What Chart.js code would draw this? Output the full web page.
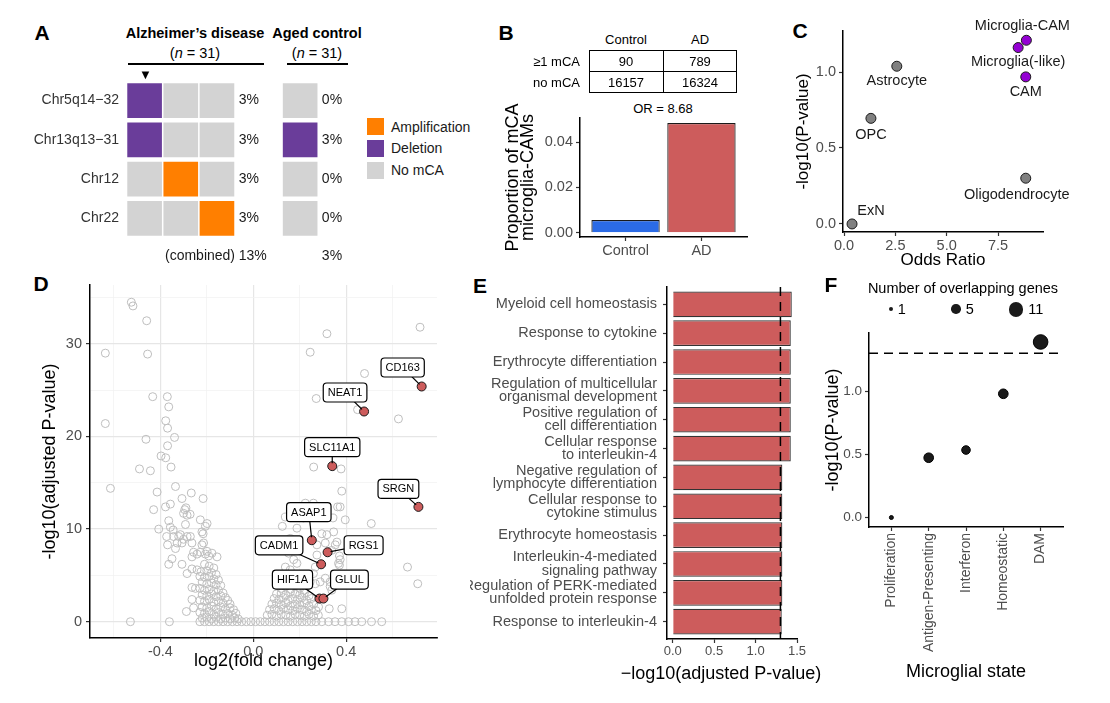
<!DOCTYPE html>
<html>
<head>
<meta charset="utf-8">
<title>mCA in microglia</title>
<script src="https://cdn.jsdelivr.net/npm/chart.js@4.4.1/dist/chart.umd.min.js"></script>
<style>
  body { margin: 0; background: #fff; }
  #figure { position: relative; width: 1110px; height: 703px; overflow: hidden; background: #fff;
            font-family: "Liberation Sans", Arial, sans-serif; color: #000; }
  #figure canvas { position: absolute; }
  .txt { position: absolute; white-space: nowrap; line-height: 1; }
  .letter { font-weight: bold; font-size: 21px; }
</style>
</head>
<body>
<div id="figure"></div>
<script>
// ---------- data: A (mCA calls per donor) ----------
const mcaRegions = ['Chr5q14\u221232', 'Chr13q13\u221231', 'Chr12', 'Chr22'];
const adCalls = [
    ['Deletion', 'No mCA', 'No mCA'],
    ['Deletion', 'No mCA', 'No mCA'],
    ['No mCA', 'Amplification', 'No mCA'],
    ['No mCA', 'No mCA', 'Amplification']
];
const controlCalls = ['No mCA', 'Deletion', 'No mCA', 'No mCA'];
const adPercent = [3, 3, 3, 3];
const controlPercent = [0, 3, 0, 0];
const combinedPercent = [13, 3];
const mcaTypes = ['Amplification', 'Deletion', 'No mCA'];

// ---------- data: B (contingency table + proportions) ----------
const tableGroups = ['Control', 'AD'];
const withMca = [90, 789];
const withoutMca = [16157, 16324];
const oddsRatio = 8.68;
const mcaProportion = [0.0056, 0.0484];

// ---------- data: C (enrichment per cell type) ----------
const cellTypes = ['ExN', 'OPC', 'Astrocyte', 'Oligodendrocyte', 'CAM', 'Microglia(-like)', 'Microglia-CAM'];
const cellOdds = [0.39, 1.31, 2.57, 8.85, 8.85, 8.48, 8.88];
const cellNegLogP = [0.0, 0.695, 1.038, 0.301, 0.968, 1.161, 1.209];
const cellMicroglial = [false, false, false, false, true, true, true];

// ---------- data: D (volcano) ----------
const downGenes = [
    [-0.525, 34.5], [-0.518, 34.1], [-0.459, 32.5], [-0.637, 29.0], [-0.455, 28.9],
    [-0.433, 24.3], [-0.370, 24.3], [-0.364, 23.2], [-0.637, 21.4], [-0.377, 21.7], [-0.369, 20.9],
    [-0.462, 19.7], [-0.339, 19.9], [-0.369, 19.0], [-0.397, 17.9], [-0.377, 17.7], [-0.354, 16.7],
    [-0.490, 16.5], [-0.443, 16.3], [-0.615, 14.4], [-0.414, 14.0], [-0.335, 14.6],
    [-0.429, 12.1], [-0.378, 12.4], [-0.357, 12.7], [-0.267, 13.9], [-0.216, 13.3], [-0.307, 13.3],
    [-0.295, 12.1], [-0.300, 11.7], [-0.285, 11.5], [-0.272, 11.6], [-0.290, 12.3], [-0.228, 11.0],
    [-0.407, 10.0], [-0.357, 10.2], [-0.364, 10.9], [-0.345, 9.9], [-0.292, 10.5], [-0.206, 10.3],
    [-0.199, 10.6], [-0.221, 9.7], [-0.314, 9.4], [-0.343, 9.2], [-0.321, 9.2], [-0.300, 8.9],
    [-0.285, 9.2], [-0.271, 9.2], [-0.373, 9.2], [-0.369, 8.3], [-0.335, 7.9], [-0.328, 8.5],
    [-0.307, 8.5], [-0.264, 8.5], [-0.214, 8.5], [-0.216, 9.5], [-0.350, 6.8], [-0.364, 6.2],
    [-0.307, 6.2], [-0.285, 5.2], [-0.257, 7.5], [-0.242, 7.3], [-0.264, 7.0], [-0.228, 7.5],
    [-0.221, 8.3], [-0.206, 7.3], [-0.199, 7.6], [-0.192, 7.1], [-0.178, 7.4], [-0.156, 7.0],
    [-0.264, 5.7], [-0.242, 5.6], [-0.264, 3.7], [-0.249, 3.6], [-0.264, 2.4], [-0.257, 1.5],
    [-0.288, 1.1], [-0.529, 0], [-0.361, 0],
    [-0.21, 6.2], [-0.19, 6.0], [-0.17, 5.8],
    [-0.225, 5.4], [-0.20, 5.5], [-0.18, 5.3], [-0.16, 5.1],
    [-0.23, 4.9], [-0.21, 4.8], [-0.19, 4.9], [-0.17, 4.6], [-0.15, 4.5],
    [-0.22, 4.3], [-0.20, 4.1], [-0.18, 4.2], [-0.16, 4.0], [-0.14, 3.9],
    [-0.23, 3.6], [-0.21, 3.4], [-0.19, 3.5], [-0.17, 3.3], [-0.15, 3.4], [-0.13, 3.1],
    [-0.22, 2.9], [-0.20, 2.8], [-0.18, 3.0], [-0.16, 2.7], [-0.14, 2.8], [-0.12, 2.6],
    [-0.23, 2.3], [-0.21, 2.2], [-0.19, 2.4], [-0.17, 2.1], [-0.15, 2.2], [-0.13, 2.0], [-0.11, 2.3], [-0.10, 1.9],
    [-0.22, 1.6], [-0.20, 1.5], [-0.18, 1.7], [-0.16, 1.4], [-0.14, 1.6], [-0.12, 1.4], [-0.10, 1.5], [-0.085, 1.3],
    [-0.23, 1.0], [-0.21, 0.9], [-0.19, 1.1], [-0.17, 0.8], [-0.15, 1.0], [-0.13, 0.8], [-0.11, 0.9], [-0.09, 0.7], [-0.075, 0.9],
    [-0.22, 0.4], [-0.20, 0.5], [-0.18, 0.3], [-0.16, 0.5], [-0.14, 0.3], [-0.12, 0.4], [-0.10, 0.3], [-0.08, 0.4], [-0.065, 0.3]
];
const upGenes = [
    [0.718, 31.8], [0.317, 31.1], [0.245, 29.1], [0.479, 26.8], [0.271, 24.1], [0.449, 22.9], [0.625, 21.9],
    [0.260, 16.7], [0.378, 16.5], [0.381, 14.1], [0.224, 12.8], [0.259, 12.8], [0.363, 12.4], [0.374, 12.4],
    [0.138, 11.3], [0.216, 11.2], [0.343, 11.2], [0.396, 11.0], [0.508, 10.6], [0.125, 10.3], [0.188, 10.1],
    [0.295, 9.5], [0.159, 9.0], [0.317, 9.4], [0.346, 9.7], [0.360, 8.6], [0.274, 8.3], [0.310, 8.5], [0.353, 8.3],
    [0.338, 7.7], [0.371, 7.1], [0.374, 6.7], [0.367, 6.3], [0.274, 7.2], [0.152, 7.4], [0.174, 6.7], [0.188, 6.3],
    [0.138, 5.9], [0.159, 5.6], [0.267, 5.9], [0.371, 6.1], [0.259, 5.2], [0.310, 4.7], [0.288, 4.3], [0.331, 4.3],
    [0.245, 4.3], [0.267, 4.1], [0.331, 3.8], [0.338, 3.4], [0.664, 5.9], [0.708, 4.1], [0.281, 1.6], [0.327, 1.4], [0.381, 1.4],
    [0.12, 3.6], [0.14, 3.8], [0.16, 3.5], [0.18, 3.9], [0.20, 3.6], [0.22, 3.4],
    [0.10, 3.0], [0.12, 3.1], [0.14, 2.9], [0.16, 3.2], [0.18, 3.0], [0.20, 2.9], [0.22, 3.1], [0.24, 2.8],
    [0.09, 2.5], [0.11, 2.4], [0.13, 2.6], [0.15, 2.3], [0.17, 2.5], [0.19, 2.4], [0.21, 2.6], [0.23, 2.3], [0.25, 2.5],
    [0.08, 1.9], [0.10, 2.0], [0.12, 1.8], [0.14, 2.0], [0.16, 1.7], [0.18, 1.9], [0.20, 1.8], [0.22, 2.0], [0.24, 1.7], [0.26, 1.9],
    [0.07, 1.3], [0.09, 1.4], [0.11, 1.2], [0.13, 1.4], [0.15, 1.3], [0.17, 1.2], [0.19, 1.4], [0.21, 1.3], [0.23, 1.1], [0.25, 1.3], [0.27, 1.2],
    [0.06, 0.7], [0.08, 0.8], [0.10, 0.6], [0.12, 0.8], [0.14, 0.7], [0.16, 0.6], [0.18, 0.8], [0.20, 0.7], [0.22, 0.6], [0.24, 0.8], [0.26, 0.6], [0.28, 0.7]
];
const flatGenes = [
    [-0.23, 0], [-0.21, 0], [-0.19, 0], [-0.17, 0], [-0.15, 0], [-0.13, 0], [-0.11, 0], [-0.09, 0],
    [-0.07, 0], [-0.05, 0], [-0.03, 0], [-0.01, 0], [0.01, 0], [0.03, 0], [0.05, 0], [0.07, 0],
    [0.09, 0], [0.11, 0], [0.13, 0], [0.15, 0], [0.17, 0], [0.19, 0], [0.21, 0], [0.23, 0],
    [0.25, 0], [0.27, 0], [0.295, 0], [0.324, 0], [0.352, 0], [0.381, 0], [0.410, 0], [0.438, 0],
    [0.467, 0], [0.509, 0], [0.553, 0]
];
const hitGenes = ['CD163', 'NEAT1', 'SLC11A1', 'SRGN', 'ASAP1', 'RGS1', 'CADM1', 'HIF1A', 'GLUL'];
const hitLog2FC = [0.725, 0.477, 0.340, 0.711, 0.252, 0.320, 0.292, 0.285, 0.302];
const hitNegLogP = [25.4, 22.7, 16.8, 12.4, 8.8, 7.5, 6.2, 2.5, 2.5];

// ---------- data: E (GO enrichment) ----------
const goTerms = [
    'Myeloid cell homeostasis',
    'Response to cytokine',
    'Erythrocyte differentiation',
    ['Regulation of multicellular', 'organismal development'],
    ['Positive regulation of', 'cell differentiation'],
    ['Cellular response', 'to interleukin-4'],
    ['Negative regulation of', 'lymphocyte differentiation'],
    ['Cellular response to', 'cytokine stimulus'],
    'Erythrocyte homeostasis',
    ['Interleukin-4-mediated', 'signaling pathway'],
    ['Regulation of PERK-mediated', 'unfolded protein response'],
    'Response to interleukin-4'
];
const goNegLogP = [1.437, 1.425, 1.425, 1.425, 1.425, 1.425, 1.323, 1.323, 1.323, 1.323, 1.323, 1.316];
const significance = 1.30;

// ---------- data: F (microglial states) ----------
const microglialStates = ['Proliferation', 'Antigen-Presenting', 'Interferon', 'Homeostatic', 'DAM'];
const stateNegLogP = [0.0, 0.473, 0.534, 0.979, 1.389];
const stateOverlap = [1, 5, 4, 5, 11];
const overlapBreaks = [1, 5, 11];

// ---------- helpers ----------
const FONT = '"Liberation Sans", Arial, sans-serif';
Chart.defaults.font.family = FONT;
Chart.defaults.color = '#4D4D4D';

const figure = document.getElementById('figure');
const mcaColors = { 'Amplification': '#FF7F00', 'Deletion': '#6A3D9A', 'No mCA': '#D3D3D3' };
const RED = '#CD5C5C';
const AXIS_LINE = { display: true, color: '#000', width: 1.5 };

function makeCanvas(left, top, w, h) {
    const c = document.createElement('canvas');
    c.width = w; c.height = h;
    c.style.cssText = `left:${left}px;top:${top}px;width:${w}px;height:${h}px;`;
    figure.appendChild(c);
    return c;
}

function put(html, x, y, css = '', align = 'center') {
    const el = document.createElement('div');
    el.className = 'txt';
    el.innerHTML = html;
    const shift = align === 'left' ? '0' : align === 'right' ? '-100%' : '-50%';
    el.style.cssText = `left:${x}px;top:${y}px;transform:translate(${shift},-50%);${css}`;
    figure.appendChild(el);
    return el;
}

function box(x, y, w, h, css) {
    const el = document.createElement('div');
    el.style.cssText = `position:absolute;left:${x}px;top:${y}px;width:${w}px;height:${h}px;${css}`;
    figure.appendChild(el);
}

function tickGrid() {
    return { display: true, drawOnChartArea: false, drawTicks: true, tickLength: 4, tickColor: '#333', tickWidth: 1.2, offset: false };
}

function fixTicks(values) {
    return axis => { axis.ticks = values.map(v => ({ value: v })); };
}

function baseOptions(extra) {
    const opts = Object.assign({
        responsive: false, animation: false, devicePixelRatio: 1, events: [],
        plugins: { legend: { display: false }, tooltip: { enabled: false } }
    }, extra);
    opts.layout = Object.assign({ autoPadding: false }, extra.layout || {});
    return opts;
}

function geneDotRadius(n) {
    return 2 + 5.3 * (Math.sqrt(n) - 1) / (Math.sqrt(11) - 1);
}

// ================= Panel A =================
const cellColX = [0, 1, 2];
const controlColX = 4.3;
const heatCells = [];
adCalls.forEach((row, r) => row.forEach((call, c) => heatCells.push({ x: cellColX[c], y: mcaRegions[r], call })));
controlCalls.forEach((call, r) => heatCells.push({ x: controlColX, y: mcaRegions[r], call }));

new Chart(makeCanvas(0, 61, 345, 210), {
    type: 'scatter',
    data: {
        datasets: [{
            data: heatCells,
            pointStyle: 'rect',
            pointRadius: 24.5,
            borderWidth: 0,
            backgroundColor: heatCells.map(c => mcaColors[c.call])
        }]
    },
    options: baseOptions({
        layout: { padding: { top: 20, bottom: 33 } },
        scales: {
            x: { type: 'linear', display: false, min: -0.514, max: 5.54 },
            y: {
                type: 'category', labels: mcaRegions, offset: true,
                grid: { display: false, drawTicks: false }, border: { display: false },
                ticks: { color: '#333', font: { size: 14 }, padding: 7 },
                afterFit: a => { a.width = 126; }
            }
        }
    }),
    plugins: [{
        id: 'percentages',
        afterDatasetsDraw(chart) {
            const { ctx, scales: { x, y }, chartArea } = chart;
            ctx.save();
            ctx.font = '14px ' + FONT;
            ctx.fillStyle = '#1a1a1a';
            ctx.textBaseline = 'middle';
            ctx.textAlign = 'left';
            mcaRegions.forEach((r, i) => {
                const py = y.getPixelForValue(i);
                ctx.fillText(adPercent[i] + '%', x.getPixelForValue(2.6), py);
                ctx.fillText(controlPercent[i] + '%', x.getPixelForValue(4.9), py);
            });
            const cy = chartArea.bottom + 18;
            ctx.fillText(combinedPercent[0] + '%', x.getPixelForValue(2.6), cy);
            ctx.fillText(combinedPercent[1] + '%', x.getPixelForValue(4.9), cy);
            ctx.textAlign = 'right';
            ctx.fillText('(combined)', x.getPixelForValue(2.5), cy);
            ctx.restore();
        }
    }]
});

put('A', 42, 32).classList.add('letter');
put('Alzheimer\u2019s disease', 195, 33, 'font-weight:bold;font-size:14.5px;');
put('(<i>n</i> = 31)', 195, 53, 'font-size:14.5px;');
put('Aged control', 317, 33, 'font-weight:bold;font-size:14.5px;');
put('(<i>n</i> = 31)', 317, 53, 'font-size:14.5px;');
box(128, 63, 136, 2, 'background:#000;');
box(287, 63, 61, 2, 'background:#000;');
put('\u25BC', 145.5, 73.5, 'font-size:13px;');
mcaTypes.forEach((t, i) => {
    const cy = 126.7 + i * 21.7;
    box(367, cy - 8.5, 17, 17, 'background:' + mcaColors[t] + ';');
    put(t, 391, cy, 'font-size:14px;color:#1a1a1a;', 'left');
});

// ================= Panel B =================
put('B', 506, 32).classList.add('letter');
tableGroups.forEach((g, i) => put(g, [626, 700][i], 39, 'font-size:13px;'));
box(589, 50, 148, 43, 'border:1.3px solid #000;box-sizing:border-box;');
box(662.5, 50, 1.3, 43, 'background:#000;');
box(589, 71, 148, 1.3, 'background:#000;');
put('\u22651 mCA', 580, 61, 'font-size:13px;', 'right');
put('no mCA', 580, 82, 'font-size:13px;', 'right');
tableGroups.forEach((g, i) => {
    put(String(withMca[i]), [626, 700][i], 61, 'font-size:13px;');
    put(String(withoutMca[i]), [626, 700][i], 82, 'font-size:13px;');
});
put('OR = ' + oddsRatio.toFixed(2), 663, 108, 'font-size:13px;');

new Chart(makeCanvas(495, 100, 255, 170), {
    type: 'bar',
    data: {
        datasets: [{
            data: tableGroups.map((g, i) => ({ x: i, y: mcaProportion[i] })),
            backgroundColor: ['#2B6BE6', RED],
            borderColor: '#1a1a1a', borderWidth: 1.2,
            barPercentage: 0.9, categoryPercentage: 1
        }]
    },
    options: baseOptions({
        layout: { padding: { top: 18, right: 3 } },
        scales: {
            x: {
                type: 'linear', min: -0.6, max: 1.6, offset: false,
                afterBuildTicks: fixTicks([0, 1]),
                ticks: { callback: v => tableGroups[v], font: { size: 14.5 }, padding: 1, autoSkip: false },
                grid: tickGrid(), border: AXIS_LINE,
                afterFit: a => { a.height = 33; }
            },
            y: {
                type: 'linear', min: -0.0019, max: 0.0506,
                afterBuildTicks: fixTicks([0, 0.02, 0.04]),
                ticks: { callback: v => v.toFixed(2), font: { size: 14.5 }, padding: 3 },
                grid: tickGrid(), border: AXIS_LINE,
                title: { display: true, text: ['Proportion of mCA', 'microglia-CAMs'], color: '#000',
                         font: { size: 18, lineHeight: 0.87 }, padding: { top: 10 } },
                afterFit: a => { a.width = 85; }
            }
        }
    })
});

// ================= Panel C =================
put('C', 800, 30).classList.add('letter');
const cellLabelNudge = {
    'ExN': [19, -13], 'OPC': [0, 17], 'Astrocyte': [0, 15], 'Oligodendrocyte': [-9, 17],
    'CAM': [0, 15], 'Microglia(-like)': [0, 14], 'Microglia-CAM': [-4, -14]
};
new Chart(makeCanvas(785, 11, 320, 269), {
    type: 'scatter',
    data: {
        datasets: [{
            data: cellTypes.map((c, i) => ({ x: cellOdds[i], y: cellNegLogP[i] })),
            pointRadius: 5, borderWidth: 1, borderColor: '#1a1a1a',
            backgroundColor: cellMicroglial.map(m => m ? '#9400D3' : '#808080')
        }]
    },
    options: baseOptions({
        layout: { padding: { top: 20, right: 62 } },
        scales: {
            x: {
                type: 'linear', min: -0.05, max: 9.69,
                afterBuildTicks: fixTicks([0, 2.5, 5, 7.5]),
                ticks: { callback: v => v.toFixed(1), font: { size: 14.5 }, padding: 1 },
                grid: tickGrid(), border: AXIS_LINE,
                title: { display: true, text: 'Odds Ratio', color: '#000', font: { size: 17 }, padding: { bottom: 9 } },
                afterFit: a => { a.height = 48; }
            },
            y: {
                type: 'linear', min: -0.053, max: 1.27,
                afterBuildTicks: fixTicks([0, 0.5, 1]),
                ticks: { callback: v => v.toFixed(1), font: { size: 14.5 }, padding: 3 },
                grid: tickGrid(), border: AXIS_LINE,
                title: { display: true, text: '-log10(P-value)', color: '#000', font: { size: 17 }, padding: { top: 8 } },
                afterFit: a => { a.width = 58; }
            }
        }
    }),
    plugins: [{
        id: 'cellLabels',
        afterDatasetsDraw(chart) {
            const { ctx, scales: { x, y } } = chart;
            ctx.save();
            ctx.font = '14.5px ' + FONT;
            ctx.fillStyle = '#1a1a1a';
            ctx.textAlign = 'center';
            ctx.textBaseline = 'middle';
            cellTypes.forEach((c, i) => {
                const [dx, dy] = cellLabelNudge[c];
                ctx.fillText(c, x.getPixelForValue(cellOdds[i]) + dx, y.getPixelForValue(cellNegLogP[i]) + dy);
            });
            ctx.restore();
        }
    }]
});

// ================= Panel D =================
put('D', 41, 283).classList.add('letter');
const geneLabelOffset = {
    CD163: [-19, -19], NEAT1: [-19, -19], SLC11A1: [0, -19], SRGN: [-20, -18], ASAP1: [-3, -28],
    RGS1: [36, -7], CADM1: [-42, -19], HIF1A: [-27, -19], GLUL: [26, -19]
};
const isMajorX = v => [-0.4, 0, 0.4].some(m => Math.abs(m - v) < 1e-9);
const isMajorY = v => v % 10 === 0;
const volcanoGrey = downGenes.concat(upGenes, flatGenes);

new Chart(makeCanvas(30, 265, 420, 420), {
    type: 'scatter',
    data: {
        datasets: [
            {
                order: 0,
                data: hitGenes.map((g, i) => ({ x: hitLog2FC[i], y: hitNegLogP[i] })),
                pointRadius: 4.5, borderWidth: 1, borderColor: '#1a1a1a', backgroundColor: RED
            },
            {
                order: 1,
                data: volcanoGrey.map(([x, y]) => ({ x, y })),
                pointRadius: 4, borderWidth: 1, borderColor: '#BEBEBE', backgroundColor: 'rgba(0,0,0,0)'
            }
        ]
    },
    options: baseOptions({
        layout: { padding: { top: 20, right: 13 } },
        scales: {
            x: {
                type: 'linear', min: -0.703, max: 0.791,
                afterBuildTicks: fixTicks([-0.6, -0.4, -0.2, 0, 0.2, 0.4, 0.6]),
                ticks: { callback: v => isMajorX(v) ? v.toFixed(1) : '', font: { size: 14.5 }, padding: 1, autoSkip: false, maxRotation: 0 },
                grid: {
                    display: true, drawOnChartArea: true, drawTicks: true, tickLength: 4, tickWidth: 1.2,
                    color: ctx => isMajorX(ctx.tick.value) ? '#E6E6E6' : '#F0F0F0',
                    lineWidth: ctx => isMajorX(ctx.tick.value) ? 1.2 : 0.7,
                    tickColor: ctx => isMajorX(ctx.tick.value) ? '#333' : 'rgba(0,0,0,0)'
                },
                border: AXIS_LINE,
                title: { display: true, text: 'log2(fold change)', color: '#000', font: { size: 18 }, padding: { bottom: 13 } },
                afterFit: a => { a.height = 47; }
            },
            y: {
                type: 'linear', min: -1.76, max: 36.36,
                afterBuildTicks: fixTicks([0, 5, 10, 15, 20, 25, 30, 35]),
                ticks: { callback: v => isMajorY(v) ? String(v) : '', font: { size: 14.5 }, padding: 4, autoSkip: false },
                grid: {
                    display: true, drawOnChartArea: true, drawTicks: true, tickLength: 4, tickWidth: 1.2,
                    color: ctx => isMajorY(ctx.tick.value) ? '#E6E6E6' : '#F0F0F0',
                    lineWidth: ctx => isMajorY(ctx.tick.value) ? 1.2 : 0.7,
                    tickColor: ctx => isMajorY(ctx.tick.value) ? '#333' : 'rgba(0,0,0,0)'
                },
                border: AXIS_LINE,
                title: { display: true, text: '-log10(adjusted P-value)', color: '#000', font: { size: 18 }, padding: { top: 9 } },
                afterFit: a => { a.width = 60; }
            }
        }
    }),
    plugins: [{
        id: 'geneLabels',
        afterDatasetsDraw(chart) {
            const { ctx, scales: { x, y } } = chart;
            ctx.save();
            ctx.font = '11px ' + FONT;
            hitGenes.forEach((g, i) => {
                const px = x.getPixelForValue(hitLog2FC[i]);
                const py = y.getPixelForValue(hitNegLogP[i]);
                const [dx, dy] = geneLabelOffset[g];
                const bx = px + dx, by = py + dy;
                const len = Math.hypot(dx, dy);
                const w = ctx.measureText(g).width + 9, h = 19;
                ctx.strokeStyle = '#000';
                ctx.lineWidth = 1.2;
                ctx.beginPath();
                ctx.moveTo(px + dx / len * 3, py + dy / len * 3);
                ctx.lineTo(bx, by);
                ctx.stroke();
                ctx.beginPath();
                ctx.roundRect(bx - w / 2, by - h / 2, w, h, 3.5);
                ctx.fillStyle = '#fff';
                ctx.fill();
                ctx.stroke();
                ctx.fillStyle = '#000';
                ctx.textAlign = 'center';
                ctx.textBaseline = 'middle';
                ctx.fillText(g, bx, by + 0.5);
            });
            ctx.restore();
        }
    }]
});

// ================= Panel E =================
put('E', 480, 285).classList.add('letter');
new Chart(makeCanvas(470, 267, 343, 423), {
    type: 'bar',
    data: {
        datasets: [{
            data: goTerms.map((t, i) => ({ x: goNegLogP[i], y: i })),
            backgroundColor: RED, borderColor: '#333', borderWidth: 1.2,
            barPercentage: 0.89, categoryPercentage: 1
        }]
    },
    options: baseOptions({
        indexAxis: 'y',
        layout: { padding: { top: 20, right: 16 } },
        scales: {
            x: {
                type: 'linear', min: -0.069, max: 1.5,
                afterBuildTicks: fixTicks([0, 0.5, 1, 1.5]),
                ticks: { callback: v => v.toFixed(1), font: { size: 13 }, padding: 1, autoSkip: false, maxRotation: 0 },
                grid: tickGrid(), border: AXIS_LINE,
                afterFit: a => { a.height = 51; }
            },
            y: {
                type: 'linear', reverse: true, min: -0.6, max: 11.6, offset: false,
                afterBuildTicks: fixTicks(goTerms.map((t, i) => i)),
                ticks: { callback: v => goTerms[v], font: { size: 14.5, lineHeight: 0.9 }, padding: 6, autoSkip: false },
                grid: tickGrid(), border: AXIS_LINE,
                afterFit: a => { a.width = 197; }
            }
        }
    }),
    plugins: [{
        id: 'threshold',
        afterDatasetsDraw(chart) {
            const { ctx, scales: { x }, chartArea } = chart;
            const px = x.getPixelForValue(significance);
            ctx.save();
            ctx.strokeStyle = '#000';
            ctx.lineWidth = 1.5;
            ctx.setLineDash([9, 6]);
            ctx.beginPath();
            ctx.moveTo(px, chartArea.top);
            ctx.lineTo(px, chartArea.bottom);
            ctx.stroke();
            ctx.restore();
        }
    }]
});
put('\u2212log10(adjusted P-value)', 721, 673, 'font-size:18px;');

// ================= Panel F =================
put('F', 831, 284).classList.add('letter');
put('Number of overlapping genes', 963, 288, 'font-size:14.5px;');
const legendDotX = [890.7, 956, 1016];
overlapBreaks.forEach((n, i) => {
    const r = geneDotRadius(n);
    box(legendDotX[i] - r, 309.3 - r, 2 * r, 2 * r, 'background:#1a1a1a;border-radius:50%;');
    put(String(n), legendDotX[i] + r + 5, 309.3, 'font-size:14.5px;', 'left');
});

new Chart(makeCanvas(815, 275, 270, 415), {
    type: 'scatter',
    data: {
        datasets: [{
            data: microglialStates.map((s, i) => ({ x: i, y: stateNegLogP[i] })),
            pointRadius: stateOverlap.map(geneDotRadius),
            backgroundColor: '#1a1a1a', borderColor: '#000', borderWidth: 1
        }]
    },
    options: baseOptions({
        layout: { padding: { top: 58, right: 22 } },
        scales: {
            x: {
                type: 'linear', min: -0.6, max: 4.6,
                afterBuildTicks: fixTicks([0, 1, 2, 3, 4]),
                ticks: { callback: v => microglialStates[v], font: { size: 14 }, padding: 2,
                         maxRotation: 90, minRotation: 90, autoSkip: false },
                grid: tickGrid(), border: AXIS_LINE,
                title: { display: true, text: 'Microglial state', color: '#000', font: { size: 18 }, padding: { bottom: 7 } },
                afterFit: a => { a.height = 163; }
            },
            y: {
                type: 'linear', min: -0.075, max: 1.46,
                afterBuildTicks: fixTicks([0, 0.5, 1]),
                ticks: { callback: v => v.toFixed(1), font: { size: 13.5 }, padding: 3 },
                grid: tickGrid(), border: AXIS_LINE,
                title: { display: true, text: '-log10(P-value)', color: '#000', font: { size: 18 }, padding: { top: 7 } },
                afterFit: a => { a.width = 54; }
            }
        }
    }),
    plugins: [{
        id: 'threshold',
        afterDatasetsDraw(chart) {
            const { ctx, scales: { y }, chartArea } = chart;
            const py = y.getPixelForValue(significance);
            ctx.save();
            ctx.strokeStyle = '#000';
            ctx.lineWidth = 1.5;
            ctx.setLineDash([9, 6]);
            ctx.beginPath();
            ctx.moveTo(chartArea.left, py);
            ctx.lineTo(chartArea.right, py);
            ctx.stroke();
            ctx.restore();
        }
    }]
});
</script>
</body>
</html>
